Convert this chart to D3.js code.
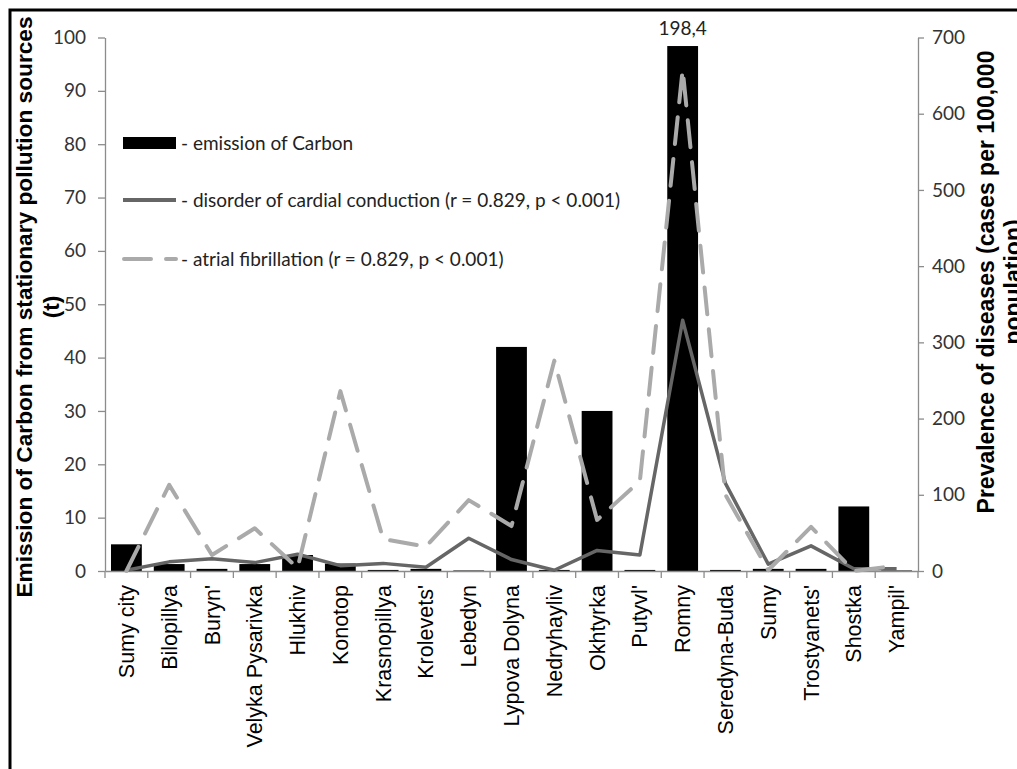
<!DOCTYPE html>
<html>
<head>
<meta charset="utf-8">
<script src="https://cdn.jsdelivr.net/npm/d3@7"></script>
<style>
  html, body { margin: 0; padding: 0; background: #fff; }
  svg { display: block; }
</style>
</head>
<body>
<svg id="chart" width="1017" height="769"></svg>
<script>
// ---- data ----
const categories = ["Sumy city","Bilopillya","Buryn'","Velyka Pysarivka","Hlukhiv","Konotop","Krasnopillya","Krolevets'","Lebedyn","Lypova Dolyna","Nedryhayliv","Okhtyrka","Putyvl'","Romny","Seredyna-Buda","Sumy","Trostyanets'","Shostka","Yampil'"];
// emission of Carbon (t), as drawn on the left axis (Romny bar is drawn truncated, labelled 198,4)
const carbon = [5.0, 1.3, 0.4, 1.3, 3.0, 1.4, 0.2, 0.4, 0.1, 42.0, 0.2, 30.0, 0.2, 98.4, 0.2, 0.4, 0.4, 12.1, 0.1];
const carbonLabels = ["", "", "", "", "", "", "", "", "", "", "", "", "", "198,4", "", "", "", "", ""];
// disorder of cardial conduction (cases per 100,000)
const conduction = [1, 12, 16, 11, 22, 7, 10, 5, 43, 15, 1, 27, 21, 329, 115, 9, 33, 3, 3];
// atrial fibrillation (cases per 100,000)
const fibrillation = [0, 113, 21, 56, 4, 236, 42, 32, 93, 59, 276, 67, 118, 658, 100, 1, 58, 0, 7];
const leftTicks = [0, 10, 20, 30, 40, 50, 60, 70, 80, 90, 100];
const rightTicks = [0, 100, 200, 300, 400, 500, 600, 700];
const legendLabels = ["- emission of Carbon", "- disorder of cardial conduction (r = 0.829, p < 0.001)", "- atrial fibrillation (r = 0.829, p < 0.001)"];

// ---- layout ----
const svg = d3.select("#chart");
const L = 105, R = 918, T = 37.5, B = 571;
const labelFont = "Lato, 'Open Sans', sans-serif";
const arialFont = "'Liberation Sans', Arial, sans-serif";

// frame
svg.append("path").attr("d", "M10,780 L10,10 L1030,10")
  .attr("fill", "none").attr("stroke", "#000").attr("stroke-width", 3);

const x = d3.scaleBand().domain(categories).range([L, R]).paddingInner(0.28).paddingOuter(0.14);
const xPos = d3.scaleBand().domain(categories).range([L, R]);
const yL = d3.scaleLinear().domain([0, 100]).range([B, T]);
const yR = d3.scaleLinear().domain([0, 700]).range([B, T]);

// bars
svg.append("g").selectAll("rect").data(categories).join("rect")
  .attr("x", d => x(d))
  .attr("width", x.bandwidth())
  .attr("y", (d, i) => yL(carbon[i]))
  .attr("height", (d, i) => B - yL(carbon[i]))
  .attr("fill", "#000");

// bar label
svg.append("g").selectAll("text").data(categories).join("text")
  .filter((d, i) => carbonLabels[i] !== "")
  .attr("x", d => xPos(d) + xPos.bandwidth() / 2)
  .attr("y", d => yL(carbon[categories.indexOf(d)]) - 11)
  .attr("text-anchor", "middle")
  .attr("font-family", labelFont).attr("font-size", 19).attr("fill", "#222")
  .text(d => carbonLabels[categories.indexOf(d)]);

// axes
const axisColor = "#8c8c8c";
const gL = svg.append("g").attr("transform", `translate(${L},0)`)
  .call(d3.axisLeft(yL).tickValues(leftTicks).tickSize(7).tickPadding(12).tickSizeOuter(0));
const gR = svg.append("g").attr("transform", `translate(${R},0)`)
  .call(d3.axisRight(yR).tickValues(rightTicks).tickSize(6).tickPadding(8).tickSizeOuter(0));
const gB = svg.append("g").attr("transform", `translate(0,${B})`)
  .call(d3.axisBottom(xPos).tickSize(0).tickSizeOuter(0).tickFormat(() => ""));
[gL, gR, gB].forEach(g => {
  g.select(".domain").attr("stroke", axisColor).attr("stroke-width", 1.3);
  g.selectAll(".tick line").attr("stroke", axisColor).attr("stroke-width", 1.3);
  g.selectAll(".tick text").attr("font-family", labelFont).attr("font-size", 19).attr("fill", "#333");
});
// category boundary ticks
const bounds = categories.map(d => xPos(d)).concat([R]);
svg.append("g").selectAll("line").data(bounds).join("line")
  .attr("x1", d => d).attr("x2", d => d).attr("y1", B).attr("y2", B + 7)
  .attr("stroke", axisColor).attr("stroke-width", 1.3);

// category labels
svg.append("g").selectAll("text").data(categories).join("text")
  .attr("transform", d => `translate(${xPos(d) + xPos.bandwidth() / 2},${B + 14}) rotate(-90)`)
  .attr("text-anchor", "end").attr("dy", "0.35em")
  .attr("font-family", arialFont).attr("font-size", 21.5).attr("fill", "#000")
  .text(d => d);

// lines
const cx = (d) => xPos(d) + xPos.bandwidth() / 2;
const lineCond = d3.line().x((v, i) => cx(categories[i])).y(v => yR(v));
svg.append("path").datum(conduction).attr("d", lineCond)
  .attr("fill", "none").attr("stroke", "#666").attr("stroke-width", 3.5).attr("stroke-linejoin", "round");
svg.append("path").datum(fibrillation).attr("d", lineCond)
  .attr("fill", "none").attr("stroke", "#aaa").attr("stroke-width", 4)
  .attr("stroke-dasharray", "27,15").attr("stroke-linecap", "round").attr("stroke-linejoin", "round");

// legend
const lg = svg.append("g");
const legY = [143, 200, 259];
lg.append("rect").attr("x", 123).attr("y", legY[0] - 6).attr("width", 53).attr("height", 12).attr("fill", "#000");
lg.append("line").attr("x1", 123).attr("x2", 176).attr("y1", legY[1]).attr("y2", legY[1])
  .attr("stroke", "#666").attr("stroke-width", 4);
lg.append("line").attr("x1", 124).attr("x2", 176).attr("y1", legY[2]).attr("y2", legY[2])
  .attr("stroke", "#aaa").attr("stroke-width", 4).attr("stroke-dasharray", "27,15").attr("stroke-linecap", "round");
lg.selectAll("text").data(legendLabels).join("text")
  .attr("x", 181).attr("y", (d, i) => legY[i]).attr("dy", "0.35em")
  .attr("font-family", labelFont).attr("font-size", 19).attr("fill", "#222")
  .text(d => d);

// axis titles
const titleL = svg.append("text").attr("transform", `translate(24,307) rotate(-90)`)
  .attr("text-anchor", "middle").attr("font-family", arialFont).attr("font-weight", "bold")
  .attr("font-size", 22.7).attr("fill", "#000");
titleL.append("tspan").attr("x", 0).attr("dy", "0.35em").text("Emission of Carbon from stationary pollution sources");
titleL.append("tspan").attr("x", 0).attr("dy", "1.2em").text("(t)");

const titleR = svg.append("text").attr("transform", `translate(986,282) rotate(-90)`)
  .attr("text-anchor", "middle").attr("font-family", arialFont).attr("font-weight", "bold")
  .attr("font-size", 23).attr("fill", "#000");
titleR.append("tspan").attr("x", 0).attr("dy", "0.35em").text("Prevalence of diseases (cases per 100,000");
titleR.append("tspan").attr("x", 0).attr("dy", "1.15em").text("population)");
</script>
</body>
</html>
